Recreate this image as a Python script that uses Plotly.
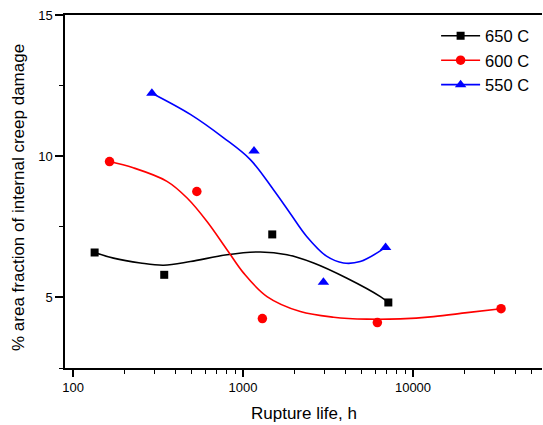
import math
import plotly.graph_objects as go

# ---- measured points (rupture life in h, % area fraction) ----
life_650 = [134, 344, 1486, 7160]
frac_650 = [6.59, 5.80, 7.23, 4.82]
life_600 = [164, 535, 1300, 6170, 32960]
frac_600 = [9.81, 8.75, 4.25, 4.11, 4.60]
life_550 = [291, 1161, 2972, 6900]
frac_550 = [12.23, 10.18, 5.54, 6.77]

# ---- smooth fit curves ----
fit_life_650 = [134, 173, 249, 341, 490, 805, 1265, 1815, 2603, 4090, 6430, 7160]
fit_frac_650 = [6.59, 6.39, 6.22, 6.14, 6.27, 6.51, 6.61, 6.51, 6.22, 5.68, 5.03, 4.82]
fit_life_600 = [164, 226, 357, 469, 614, 805, 1009, 1384, 2173, 3412, 5358, 8410, 13210, 20790, 32960]
fit_frac_600 = [9.81, 9.59, 9.11, 8.52, 7.69, 6.69, 5.86, 5.03, 4.50, 4.30, 4.23, 4.24, 4.32, 4.46, 4.60]
fit_life_550 = [291, 490, 769, 1104, 1507, 1888, 2369, 3117, 3900, 4893, 6900]
fit_frac_550 = [12.23, 11.48, 10.65, 9.88, 8.82, 7.99, 7.16, 6.45, 6.22, 6.27, 6.77]

series_names = ["650 C", "600 C", "550 C"]
colors = ["#000000", "#ff0000", "#0000ff"]
symbols = ["square", "circle", "triangle-up"]
sizes = [8, 9.5, 10]

x_ticks = [100, 1000, 10000]
x_ticktext = ["100", "1000", "10000"]
x_minor = [200, 300, 400, 500, 600, 700, 800, 900,
           2000, 3000, 4000, 5000, 6000, 7000, 8000, 9000,
           20000, 30000, 40000, 50000]
y_ticks = [5, 10, 15]
y_minor = [2.5, 7.5, 12.5]

pts = [(life_650, frac_650), (life_600, frac_600), (life_550, frac_550)]
fits = [(fit_life_650, fit_frac_650), (fit_life_600, fit_frac_600), (fit_life_550, fit_frac_550)]

fig = go.Figure()
for i in range(3):
    fx, fy = fits[i]
    fig.add_trace(go.Scatter(x=fx, y=fy, mode="lines", showlegend=False,
                             line=dict(color=colors[i], width=1.6, shape="spline", smoothing=1.0),
                             hoverinfo="skip"))
for i in range(3):
    px_, py_ = pts[i]
    fig.add_trace(go.Scatter(x=px_, y=py_, mode="markers", showlegend=False,
                             marker=dict(symbol=symbols[i], size=sizes[i], color=colors[i],
                                         line=dict(width=0))))
for i in range(3):
    fig.add_trace(go.Scatter(x=[None], y=[None], mode="lines+markers", name=series_names[i],
                             line=dict(color=colors[i], width=1.6),
                             marker=dict(symbol=symbols[i], size=sizes[i], color=colors[i],
                                         line=dict(width=0))))

fig.update_layout(
    width=543, height=425,
    margin=dict(l=65, r=1, t=15, b=57),
    paper_bgcolor="white", plot_bgcolor="white",
    font=dict(family="Liberation Sans, Arial, sans-serif", size=13, color="black"),
    legend=dict(x=0.778, y=0.99, xanchor="left", yanchor="top",
                bgcolor="rgba(0,0,0,0)", borderwidth=0,
                font=dict(size=16.5, color="black"), itemwidth=39,
                tracegroupgap=0),
    xaxis=dict(type="log", range=[math.log10(89.7), math.log10(57400)],
               tickvals=x_ticks, ticktext=x_ticktext,
               ticks="outside", ticklen=7, tickwidth=1.5, tickcolor="black",
               showline=True, linewidth=1.5, linecolor="black", mirror=True,
               showgrid=False, zeroline=False,
               minor=dict(tickvals=x_minor, ticks="outside", ticklen=4, tickwidth=1.2,
                          tickcolor="black", showgrid=False)),
    yaxis=dict(range=[2.5, 15], tickvals=y_ticks,
               ticks="outside", ticklen=8, tickwidth=1.5, tickcolor="black",
               showline=True, linewidth=1.5, linecolor="black", mirror=False,
               showgrid=False, zeroline=False,
               minor=dict(tickvals=y_minor, ticks="outside", ticklen=4, tickwidth=1.2,
                          tickcolor="black", showgrid=False)),
    annotations=[
        dict(text="Rupture life, h", xref="paper", yref="paper", x=0.5, y=-0.1275,
             xanchor="center", yanchor="middle", showarrow=False, font=dict(size=17)),
        dict(text="% area fraction of internal creep damage", xref="paper", yref="paper",
             x=-0.0964, y=0.4816, xanchor="center", yanchor="middle", textangle=-90,
             showarrow=False, font=dict(size=17)),
    ],
)

fig.write_html("out.html", config={"displayModeBar": False},
               post_script="document.body.style.margin='0px';document.body.style.overflow='hidden';")
